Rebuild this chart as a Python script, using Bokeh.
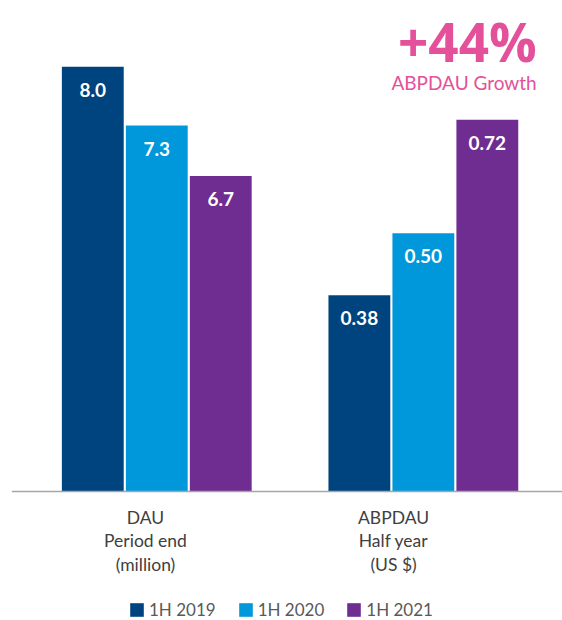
from bokeh.plotting import figure
from bokeh.models import Range1d, Span, Legend, LegendItem, ColumnDataSource
from bokeh.core.properties import value
from bokeh.embed import file_html
from bokeh.resources import INLINE

# ---- data ----
categories = ["DAU\nPeriod end\n(million)", "ABPDAU\nHalf year\n(US $)"]
periods = ["1H 2019", "1H 2020", "1H 2021"]
dau = [8.0, 7.3, 6.7]
abpdau = [0.38, 0.50, 0.72]
dau_labels = ["8.0", "7.3", "6.7"]
abpdau_labels = ["0.38", "0.50", "0.72"]
colors = ["#00447F", "#0098DA", "#6F2C91"]
growth = "+44%"
growth_label = "ABPDAU Growth"

FONT = "Lato"
dau_base = 2.942  # truncated DAU axis origin (as in original)

p = figure(frame_width=551, frame_height=620, output_backend="svg", toolbar_location=None,
           x_range=Range1d(-0.545, 1.522), y_range=Range1d(-0.2498, 0.951),
           x_axis_location=None, y_axis_location=None,
           min_border_left=11, min_border_right=0, min_border_top=0,
           min_border_bottom=0)
p.extra_y_ranges = {"dau": Range1d(1.406, 8.79)}
p.extra_x_ranges = {"cat": Range1d(-0.540, 1.681)}
p.grid.visible = False
p.outline_line_color = None
p.background_fill_color = "white"
p.border_fill_color = "white"

offsets = [-0.24, 0.0, 0.24]
bw = 0.232
legend_items = []
for i, per in enumerate(periods):
    r1 = p.vbar(x=[0 + offsets[i]], top=[dau[i]], bottom=dau_base, width=bw,
                fill_color=colors[i], line_color=None, y_range_name="dau")
    p.vbar(x=[1 + offsets[i]], top=[abpdau[i]], bottom=0, width=bw,
           fill_color=colors[i], line_color=None)
    legend_items.append(LegendItem(label=per, renderers=[r1]))

# baseline (category axis line)
p.add_layout(Span(location=0, dimension="width", line_color="#A6A6A6", line_width=1.5))

src_d = ColumnDataSource(dict(x=[0 + o for o in offsets], y=dau, t=dau_labels))
src_a = ColumnDataSource(dict(x=[1 + o for o in offsets], y=abpdau, t=abpdau_labels))
for src, rn in ((src_d, "dau"), (src_a, "default")):
    p.text(x="x", y="y", text="t", source=src, y_range_name=rn, y_offset=23,
           text_align="center", text_baseline="middle", text_color="white",
           text_font=value(FONT), text_font_style="bold", text_font_size="19px")

# category labels
p.text(x=[0, 1], y=[0, 0], text=categories, x_range_name="cat", y_offset=15,
       text_align="center", text_baseline="top", text_color="#404040",
       text_font=value(FONT), text_font_size="17.5px", text_line_height=1.14)

# growth callout
p.text(x=[1.577], y=[0.871], text=[growth], x_range_name="cat",
       text_align="right", text_baseline="middle", text_color="#E4519A",
       text_font=value("Open Sans"), text_font_style="bold", text_font_size="53px")
p.text(x=[1.577], y=[0.793], text=[growth_label], x_range_name="cat",
       text_align="right", text_baseline="middle", text_color="#E4519A",
       text_font=value(FONT), text_font_size="19px")

legend = Legend(items=legend_items, orientation="horizontal", location=(117, 0),
                border_line_color=None, background_fill_alpha=0,
                label_text_font=FONT, label_text_font_size="17px",
                label_text_color="#595959", glyph_width=17, glyph_height=17,
                label_height=17, label_standoff=4, spacing=21, padding=0, margin=0)
p.add_layout(legend, "center")

open("out.html", "w").write(file_html(p, INLINE))
